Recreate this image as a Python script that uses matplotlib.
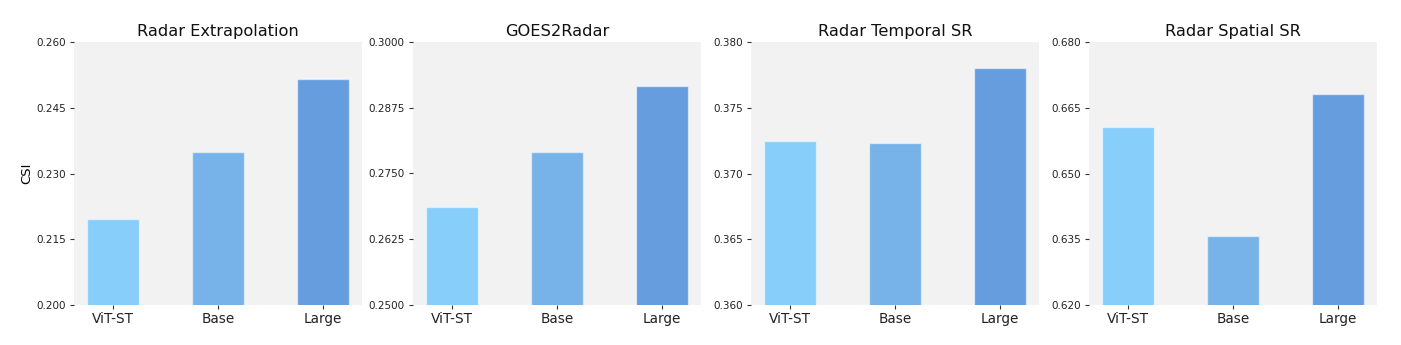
import matplotlib
matplotlib.use('Agg')
import matplotlib.pyplot as plt

models = ['ViT-ST', 'Base', 'Large']
titles = ['Radar Extrapolation', 'GOES2Radar', 'Radar Temporal SR', 'Radar Spatial SR']

radar_extrap = [0.2196, 0.2348, 0.2516]
goes2radar = [0.2686, 0.2790, 0.2916]
radar_temporal = [0.3725, 0.3723, 0.3780]
radar_spatial = [0.6605, 0.6357, 0.6682]

ylims = [(0.200, 0.260), (0.250, 0.300), (0.360, 0.380), (0.620, 0.680)]
yticks = [
    [0.200, 0.215, 0.230, 0.245, 0.260],
    [0.2500, 0.2625, 0.2750, 0.2875, 0.3000],
    [0.360, 0.365, 0.370, 0.375, 0.380],
    [0.620, 0.635, 0.650, 0.665, 0.680],
]
tick_fmt = ['%.3f', '%.4f', '%.3f', '%.3f']

colors = ['#87CEFA', '#77B3E8', '#669DDF']

fig = plt.figure(figsize=(14.01, 3.45), dpi=100)
lefts = [74, 413, 751, 1089]
data = [radar_extrap, goes2radar, radar_temporal, radar_spatial]

for i, vals in enumerate(data):
    ax = fig.add_axes([lefts[i] / 1401, 40 / 345, 288 / 1401, 263 / 345])
    ax.set_facecolor('#F2F2F2')
    ax.bar(range(len(models)), vals, width=0.5, color=colors,
           edgecolor=(1, 1, 1, 0.5), linewidth=1)
    ax.set_ylim(*ylims[i])
    ax.set_yticks(yticks[i])
    ax.set_yticklabels([tick_fmt[i] % v for v in yticks[i]], fontsize=7.5, color='#222222')
    ax.set_xticks(range(len(models)))
    ax.set_xticklabels(models, fontsize=9.8, color='#222222')
    ax.tick_params(axis='y', length=3, width=0.8, color='#333333', pad=3)
    ax.tick_params(axis='x', length=3, width=0.8, color='#333333', pad=2)
    for s in ax.spines.values():
        s.set_visible(False)
    ax.set_title(titles[i], fontsize=11.7, pad=4, color='#111111')
    if i == 0:
        ax.set_ylabel('CSI', fontsize=9.5, labelpad=2)

plt.savefig('out.png', dpi=100)
plt.close()
